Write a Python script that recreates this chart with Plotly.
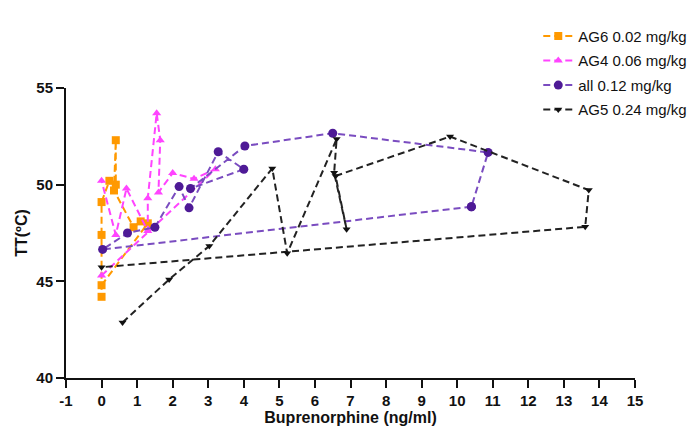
import plotly.graph_objects as go

# AG6 0.02 mg/kg
ag6_x = [0, 1.3, 1.1, 0.9, 0.35, 0.4, 0.4, 0.22, 0, 0, 0]
ag6_y = [44.8, 48.0, 48.1, 47.8, 49.7, 52.3, 50.0, 50.2, 49.1, 47.4, 44.2]

# AG4 0.06 mg/kg
ag4_x = [0, 3.2, 2.6, 2.0, 1.6, 1.65, 1.55, 1.3, 1.3, 0.7, 0.4, 0]
ag4_y = [45.3, 50.8, 50.3, 50.6, 49.6, 52.3, 53.7, 49.3, 47.6, 49.8, 47.4, 50.2]

# all 0.12 mg/kg
all_x = [10.4, 0.03, 0.73, 1.5, 2.18, 2.46, 3.28, 4.0, 2.5, 4.03, 6.5, 10.87, 10.4]
all_y = [48.86, 46.65, 47.5, 47.8, 49.9, 48.8, 51.7, 50.8, 49.8, 52.0, 52.66, 51.67, 48.86]

# AG5 0.24 mg/kg
ag5_x = [0.59, 1.9, 3.03, 4.8, 5.22, 6.61, 6.54, 6.89, 6.58, 9.8, 13.7, 13.6, 0]
ag5_y = [42.87, 45.1, 46.83, 50.84, 46.45, 52.36, 50.62, 47.7, 50.45, 52.49, 49.72, 47.82, 45.73]

x_ticks = list(range(-1, 16))
y_ticks = [40, 45, 50, 55]

series = [
    ("AG6 0.02 mg/kg", ag6_x, ag6_y, "#FF9900", "#FF9900", "square", 8),
    ("AG4 0.06 mg/kg", ag4_x, ag4_y, "#FF44FF", "#FF44FF", "triangle-up", 8),
    ("all 0.12 mg/kg", all_x, all_y, "#7A4CC0", "#4E1A96", "circle", 9),
    ("AG5 0.24 mg/kg", ag5_x, ag5_y, "#222222", "#111111", "triangle-down", 7),
]

fig = go.Figure()
for i, (name, xs, ys, lc, mc, sym, sz) in enumerate(series):
    fig.add_trace(go.Scatter(
        x=xs, y=ys, mode="lines+markers", name=name, legendgroup=str(i),
        line=dict(color=lc, width=2, dash="7px,4px"),
        marker=dict(color=mc, symbol=sym, size=sz),
    ))

axis_font = dict(family="Liberation Sans, Arial", size=15, color="#111")
fig.update_layout(
    width=699, height=427,
    margin=dict(l=57, r=72, t=70, b=54),
    paper_bgcolor="white", plot_bgcolor="white",
    font=dict(family="Liberation Sans, Arial", color="#111"),
    legend=dict(x=0.83, y=1.235, xanchor="left", yanchor="top",
                font=dict(size=15, family="Liberation Sans, Arial", color="#111"),
                tracegroupgap=2, itemwidth=30, bgcolor="rgba(0,0,0,0)"),
    xaxis=dict(range=[-1, 15], tickvals=x_ticks, ticktext=[f"<b>{v}</b>" for v in x_ticks],
               showgrid=False, zeroline=False, showline=True, linecolor="#111", linewidth=2,
               ticks="outside", ticklen=8, tickwidth=2, tickcolor="#111", tickfont=axis_font,
               title=dict(text="<b>Buprenorphine (ng/ml)</b>", font=dict(size=16), standoff=3)),
    yaxis=dict(range=[40, 55], tickvals=y_ticks, ticktext=[f"<b>{v}</b>" for v in y_ticks],
               showgrid=False, zeroline=False, showline=True, linecolor="#111", linewidth=2,
               ticks="outside", ticklen=8, tickwidth=2, tickcolor="#111", tickfont=axis_font,
               title=dict(text="<b>TT(ºC)</b>", font=dict(size=16), standoff=5)),
)
fig.write_html("out.html")
